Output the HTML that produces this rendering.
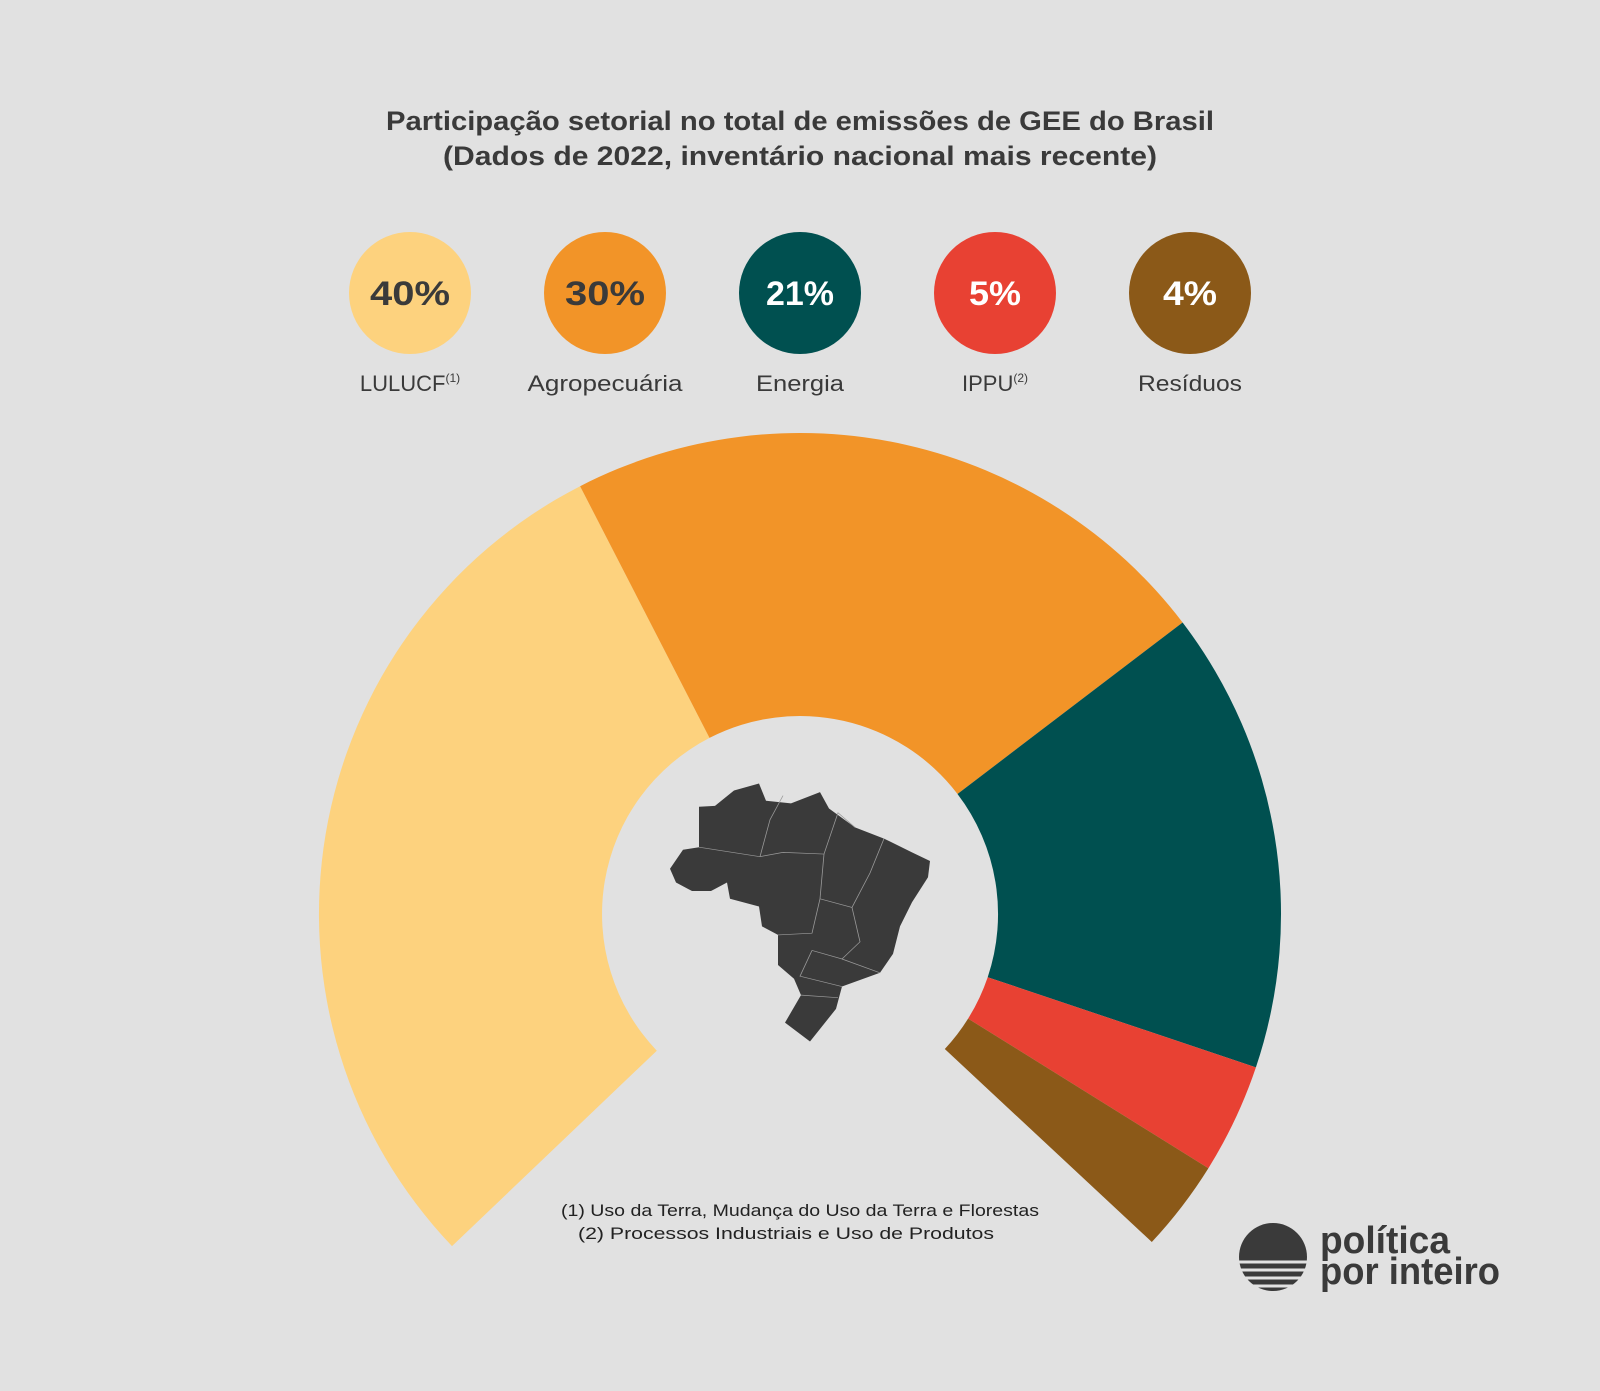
<!DOCTYPE html>
<html><head><meta charset="utf-8"><style>
html,body{margin:0;padding:0;background:#e1e1e1;}
body{width:1600px;height:1391px;position:relative;overflow:hidden;font-family:"Liberation Sans",sans-serif;}
</style></head><body>
<svg width="1600" height="1391" viewBox="0 0 1600 1391" xmlns="http://www.w3.org/2000/svg" style="position:absolute;left:0;top:0">
<rect width="1600" height="1391" fill="#e1e1e1"/>
<g font-family="Liberation Sans, sans-serif" text-anchor="middle">
<text x="800" y="130" font-size="27" font-weight="bold" fill="#3a3a3a" textLength="828" lengthAdjust="spacingAndGlyphs">Participação setorial no total de emissões de GEE do Brasil</text>
<text x="800" y="165" font-size="27" font-weight="bold" fill="#3a3a3a" textLength="714" lengthAdjust="spacingAndGlyphs">(Dados de 2022, inventário nacional mais recente)</text>
<circle cx="410" cy="293" r="61" fill="#fdd27e"/>
<circle cx="605" cy="293" r="61" fill="#f29428"/>
<circle cx="800" cy="293" r="61" fill="#005050"/>
<circle cx="995" cy="293" r="61" fill="#e84133"/>
<circle cx="1190" cy="293" r="61" fill="#8b5918"/>
<text x="410" y="305" font-size="34" font-weight="bold" fill="#3a3a3a" textLength="80" lengthAdjust="spacingAndGlyphs">40%</text>
<text x="605" y="305" font-size="34" font-weight="bold" fill="#3a3a3a" textLength="80" lengthAdjust="spacingAndGlyphs">30%</text>
<text x="800" y="305" font-size="34" font-weight="bold" fill="#fff" textLength="68" lengthAdjust="spacingAndGlyphs">21%</text>
<text x="995" y="305" font-size="34" font-weight="bold" fill="#fff" textLength="52" lengthAdjust="spacingAndGlyphs">5%</text>
<text x="1190" y="305" font-size="34" font-weight="bold" fill="#fff" textLength="54" lengthAdjust="spacingAndGlyphs">4%</text>
<text x="410" y="391" font-size="22" fill="#3a3a3a">LULUCF<tspan font-size="12" dy="-9">(1)</tspan></text>
<text x="605" y="391" font-size="22" fill="#3a3a3a" textLength="155" lengthAdjust="spacingAndGlyphs">Agropecuária</text>
<text x="800" y="391" font-size="22" fill="#3a3a3a" textLength="88" lengthAdjust="spacingAndGlyphs">Energia</text>
<text x="995" y="391" font-size="22" fill="#3a3a3a">IPPU<tspan font-size="12" dy="-9">(2)</tspan></text>
<text x="1190" y="391" font-size="22" fill="#3a3a3a" textLength="104" lengthAdjust="spacingAndGlyphs">Resíduos</text>
<text x="800" y="1216" font-size="17" fill="#222" textLength="478" lengthAdjust="spacingAndGlyphs">(1) Uso da Terra, Mudança do Uso da Terra e Florestas</text>
<text x="786" y="1239" font-size="17" fill="#222" textLength="416" lengthAdjust="spacingAndGlyphs">(2) Processos Industriais e Uso de Produtos</text>
</g>
<g transform="translate(800,914)">
<path d="M-348,332.1 A481,481 0 0 1 -219.9,-427.8 L-90.5,-176.1 A198,198 0 0 0 -143.2,136.7 Z" fill="#fdd27e"/>
<path d="M-219.9,-427.8 A481,481 0 0 1 382.6,-291.5 L157.5,-120 A198,198 0 0 0 -90.5,-176.1 Z" fill="#f29428"/>
<path d="M382.6,-291.5 A481,481 0 0 1 455.9,153.4 L187.7,63.2 A198,198 0 0 0 157.5,-120 Z" fill="#005050"/>
<path d="M455.9,153.4 A481,481 0 0 1 408.4,254.2 L168.1,104.6 A198,198 0 0 0 187.7,63.2 Z" fill="#e84133"/>
<path d="M408.4,254.2 A481,481 0 0 1 351.8,328 L144.8,135 A198,198 0 0 0 168.1,104.6 Z" fill="#8b5918"/>
</g>
<g transform="translate(0,400) scale(1,0.86) translate(0,-400)">
<polygon fill="#3a3a3a" points="670,945 683,923 699,920 699,873 715,872 734,854 759,846 766,866 791,869 820,856 829,875 855,897 884,910 912,926 930,936 928,955 912,984 900,1012 893,1044 880,1066 842,1082 836,1108 810,1146 785,1124 801,1092 794,1073 778,1057 778,1022 762,1012 759,989 730,980 727,961 711,971 692,971 676,961"/>
<g fill="none" stroke="#9a9a9a" stroke-width="0.8" vector-effect="non-scaling-stroke">
<path d="M699,920 L760,931 L783,926 M760,931 L770,888 L783,860 M783,926 L824,928 L838,880 L855,897 M824,928 L820,980 L812,1020 L778,1022 M820,980 L852,990 L870,950 L884,910 M852,990 L860,1030 L842,1050 L812,1040 M842,1050 L880,1066 M812,1040 L800,1070 L842,1082 M801,1092 L838,1095"/>
</g>
</g>
<circle cx="1273" cy="1257" r="34" fill="#3a3a3a"/>
<g stroke="#e1e1e1" stroke-width="3">
<line x1="1235" y1="1262" x2="1311" y2="1262"/>
<line x1="1235" y1="1270" x2="1311" y2="1270"/>
<line x1="1235" y1="1278" x2="1311" y2="1278"/>
<line x1="1235" y1="1286" x2="1311" y2="1286"/>
</g>
<text x="1320" y="1253" font-family="Liberation Sans, sans-serif" font-size="38" font-weight="bold" fill="#3a3a3a" textLength="130" lengthAdjust="spacingAndGlyphs">política</text>
<text x="1320" y="1284" font-family="Liberation Sans, sans-serif" font-size="38" font-weight="bold" fill="#3a3a3a" textLength="180" lengthAdjust="spacingAndGlyphs">por inteiro</text>
</svg>
</body></html>
